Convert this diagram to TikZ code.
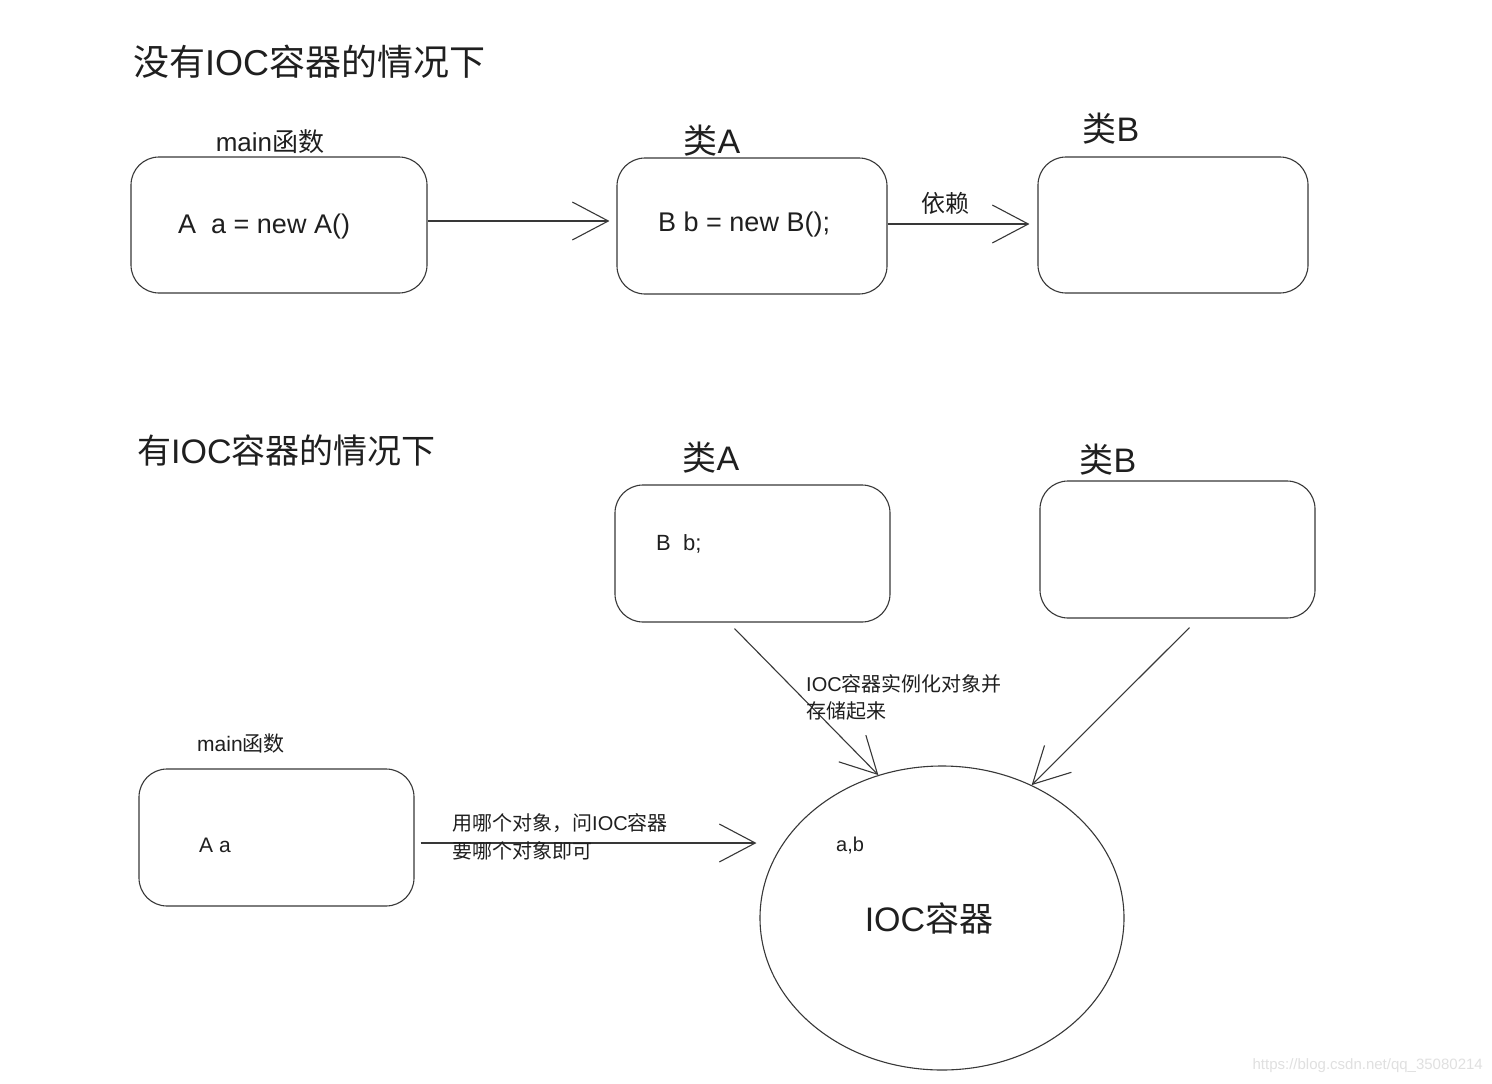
\documentclass[tikz,border=0pt]{standalone}
\usepackage{fontspec}
\setmainfont{Liberation Sans}
\newfontfamily\cjk{Noto Sans CJK SC}
\newcommand\zh[1]{{\cjk #1}}
\newcommand\fs[1]{\fontsize{#1}{#1}\selectfont}
\usetikzlibrary{arrows.meta,shapes.geometric}
\tikzset{
  box/.style={draw=black!78, line width=1.1pt, rounded corners=28pt, inner sep=0pt},
  conn/.style={draw=black!78, line width=1.1pt, -{Straight Barb[length=36pt,width=38pt,line width=1.1pt]}},
  txt/.style={inner sep=0pt, text=black!88},
}
\begin{document}
\begin{tikzpicture}[x=1pt,y=-1pt]
\useasboundingbox[fill=white] (0,0) rectangle (1492,1084);

% ---------- top part ----------
\node[txt, anchor=west] (t1) at (133,62) {\fs{36}\zh{没有}IOC\zh{容器的情况下}};

\node[box, minimum width=296pt, minimum height=136pt] (m1) at (279,225) {};
\node[txt] (lm1) at (270,142) {\fs{26}main\zh{函数}};
\node[txt, anchor=west] (c1) at (178,227) {\fs{27}A\ \ a = new A()};

\node[box, minimum width=270pt, minimum height=136pt] (a1) at (752,226) {};
\node[txt] (la1) at (712,141) {\fs{34}\zh{类}A};
\node[txt, anchor=west] (ca1) at (658,225) {\fs{27}B b = new B();};

\node[box, minimum width=270pt, minimum height=136pt] (b1) at (1173,225) {};
\node[txt] (lb1) at (1111,129) {\fs{34}\zh{类}B};

\draw[conn, shorten >=7pt] ([yshift=4pt]m1.east) -- ([yshift=4pt]m1.east -| a1.west);
\draw[conn, shorten >=8pt] ([yshift=2pt]a1.east) -- ([yshift=2pt]a1.east -| b1.west);
\node[txt] (dep) at (945,203) {\fs{24}\zh{依赖}};

% ---------- bottom part ----------
\node[txt, anchor=west] (t2) at (137,450) {\fs{34}\zh{有}IOC\zh{容器的情况下}};

\node[box, minimum width=275pt, minimum height=137pt] (a2) at (752.5,553.5) {};
\node[txt] (la2) at (711,458) {\fs{34}\zh{类}A};
\node[txt, anchor=west] (ca2) at (656,544) {\fs{22}B\ \ b;};

\node[box, minimum width=275pt, minimum height=137pt] (b2) at (1177.5,549.5) {};
\node[txt] (lb2) at (1108,460) {\fs{34}\zh{类}B};

\node[box, minimum width=275pt, minimum height=137pt] (m2) at (276.5,837.5) {};
\node[txt] (lm2) at (241,744) {\fs{21}main\zh{函数}};
\node[txt, anchor=west] (cm2) at (199,845) {\fs{21}A a};

\node[draw=black!78, line width=1.1pt, ellipse, inner sep=0pt,
      minimum width=364pt, minimum height=304pt] (ioc) at (942,918) {};
\node[txt, anchor=west] (ab) at (836,846) {\fs{20}a,b};
\node[txt] (ioct) at (929,918) {\fs{34}IOC\zh{容器}};

\coordinate (sa) at ([xshift=-18pt,yshift=-6pt]a2.south);
\coordinate (sb) at ([xshift=12pt,yshift=-9pt]b2.south);
\draw[conn] (sa) -- (ioc.114);
\draw[conn] (sb) -- (ioc.56);
\node[txt, anchor=west, align=left, font=\fontsize{20}{27}\selectfont] (n1) at (806,697)
  {IOC\zh{容器实例化对象并}\\\zh{存储起来}};

\draw[conn, shorten >=3pt] ([xshift=6pt,yshift=-5.5pt]m2.east) -- ([yshift=-5.5pt]m2.east -| ioc.west);
\node[txt, anchor=west, align=left, font=\fontsize{20}{28}\selectfont] (n2) at (452,837)
  {\zh{用哪个对象，问}IOC\zh{容器}\\\zh{要哪个对象即可}};

\node[inner sep=0pt, anchor=east, text=black!12] (wm) at (1483,1066) {\fs{15}https://blog.csdn.net/qq\_35080214};
\end{tikzpicture}
\end{document}
